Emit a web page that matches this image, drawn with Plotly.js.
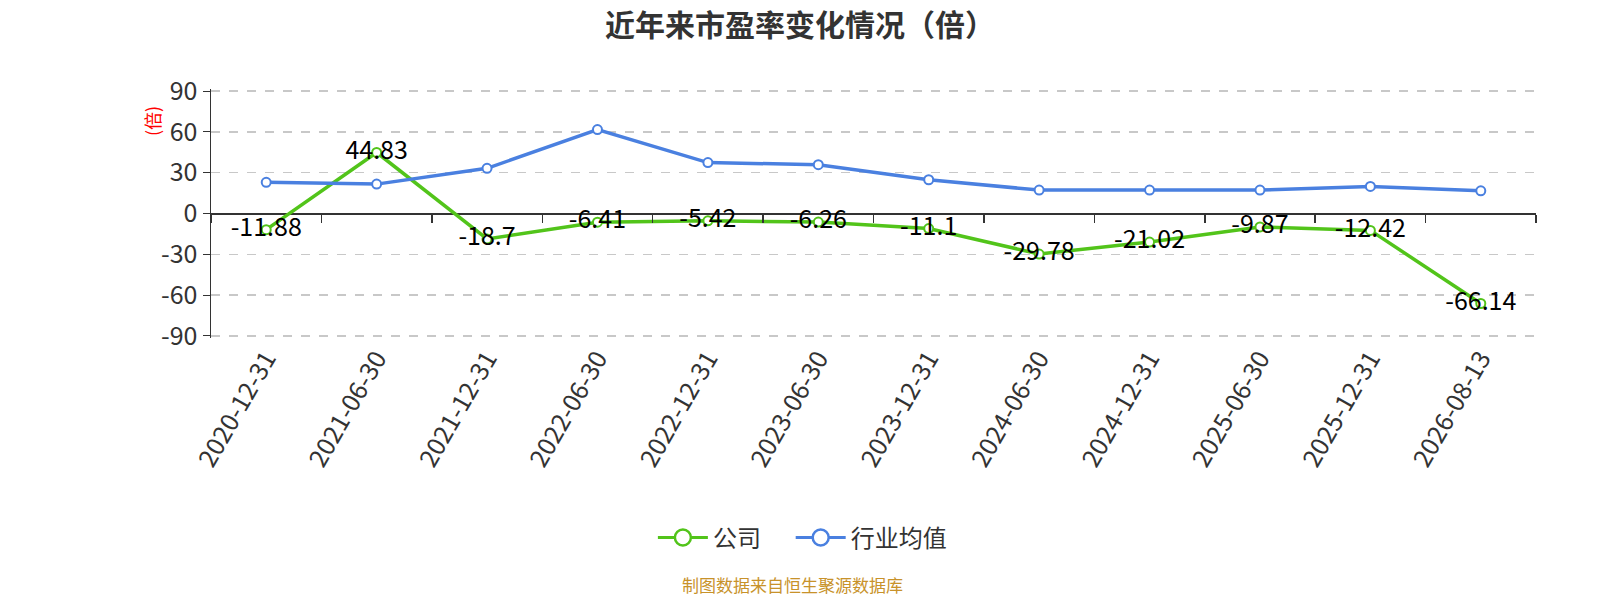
<!DOCTYPE html>
<html>
<head>
<meta charset="utf-8">
<script src="https://cdn.plot.ly/plotly-3.0.1.min.js"></script>
<style>html,body{margin:0;padding:0;background:#fff;}#chart{width:1600px;height:600px;}</style>
</head>
<body>
<div id="chart"></div>
<script>
const categories = ["2020-12-31","2021-06-30","2021-12-31","2022-06-30","2022-12-31","2023-06-30","2023-12-31","2024-06-30","2024-12-31","2025-06-30","2025-12-31","2026-08-13"];
const companyPE = [-11.88, 44.83, -18.7, -6.41, -5.42, -6.26, -11.1, -29.78, -21.02, -9.87, -12.42, -66.14];
const industryPE = [22.9, 21.6, 33.2, 61.7, 37.4, 35.9, 24.8, 17.2, 17.2, 17.2, 19.9, 16.7];
const yTicks = [-90, -60, -30, 0, 30, 60, 90];
const seriesNames = ["公司", "行业均值"];

const green = "#52c41a";
const blue = "#4a80e0";
const font = "'Noto Sans CJK SC', 'Noto Sans', sans-serif";

const traces = [
  {
    x: categories, y: companyPE, name: seriesNames[0], type: "scatter", mode: "lines+markers+text",
    line: {color: green, width: 3.5},
    marker: {size: 9, color: "#fff", line: {color: green, width: 2}},
    text: companyPE.map(v => String(v)), textposition: "middle center",
    textfont: {family: font, size: 25, color: "#000"},
    cliponaxis: false, showlegend: false
  },
  {
    x: categories, y: industryPE, name: seriesNames[1], type: "scatter", mode: "lines+markers",
    line: {color: blue, width: 3.5},
    marker: {size: 9, color: "#fff", line: {color: blue, width: 2}},
    showlegend: false
  },
  {
    x: categories, y: companyPE, xaxis: "x2", type: "scatter", mode: "lines",
    line: {width: 0}, showlegend: false, hoverinfo: "skip", opacity: 0
  },
  {
    x: [null], y: [null], name: seriesNames[0], type: "scatter", mode: "lines+markers", legend: "legend",
    line: {color: green, width: 3}, marker: {size: 16, color: "#fff", line: {color: green, width: 2.5}}
  },
  {
    x: [null], y: [null], name: seriesNames[1], type: "scatter", mode: "lines+markers", legend: "legend2",
    line: {color: blue, width: 3}, marker: {size: 16, color: "#fff", line: {color: blue, width: 2.5}}
  }
];

const legendStyle = {orientation: "h", xanchor: "left", y: -0.803, yanchor: "middle",
  font: {family: font, size: 24, color: "#333"}, itemwidth: 50, bgcolor: "rgba(0,0,0,0)"};

const layout = {
  width: 1600, height: 600,
  paper_bgcolor: "#fff", plot_bgcolor: "#fff",
  margin: {l: 211, r: 64, t: 89, b: 262},
  font: {family: font, color: "#333"},
  hovermode: false,
  title: {text: "<b>近年来市盈率变化情况（倍）</b>", x: 0.5, xanchor: "center", y: 0.958, yanchor: "middle",
          font: {family: font, size: 30, color: "#333"}},
  xaxis: {
    type: "category", categoryarray: categories, range: [-0.5, 11.5],
    showline: false, ticks: "", showgrid: false, zeroline: false,
    tickangle: -60, tickfont: {family: font, size: 25, color: "#333"}
  },
  xaxis2: {
    type: "category", categoryarray: categories, range: [-0.5, 11.5],
    overlaying: "x", anchor: "free", position: 0.5, side: "bottom",
    showline: false, ticks: "outside", tickson: "boundaries", ticklen: 8, tickwidth: 1.5, tickcolor: "#333",
    showticklabels: false, showgrid: false, zeroline: false
  },
  yaxis: {
    range: [-91.5, 91.5], tickvals: yTicks, ticktext: yTicks.map(String),
    showline: true, linecolor: "#333", linewidth: 1.5,
    ticks: "outside", ticklen: 7, tickcolor: "#333",
    gridcolor: "#c8c8c8", griddash: "dash", gridwidth: 1.5,
    zeroline: true, zerolinecolor: "#333", zerolinewidth: 2,
    tickfont: {family: font, size: 25, color: "#333"},
    title: {text: ""}
  },
  showlegend: true,
  legend: Object.assign({}, legendStyle, {x: 0.3335}),
  legend2: Object.assign({}, legendStyle, {x: 0.4375}),
  annotations: [
    {text: "(倍)", xref: "paper", yref: "paper", x: -0.044, y: 0.87, xanchor: "center", yanchor: "middle",
     textangle: -90, showarrow: false, font: {family: font, size: 18, color: "#ff0000"}},
    {text: "制图数据来自恒生聚源数据库", xref: "paper", yref: "paper", x: 0.4385, y: -0.99, xanchor: "center", yanchor: "middle",
     showarrow: false, font: {family: font, size: 17, color: "#c8922a"}}
  ]
};

Plotly.newPlot("chart", traces, layout, {displayModeBar: false, staticPlot: true});
</script>
</body>
</html>
